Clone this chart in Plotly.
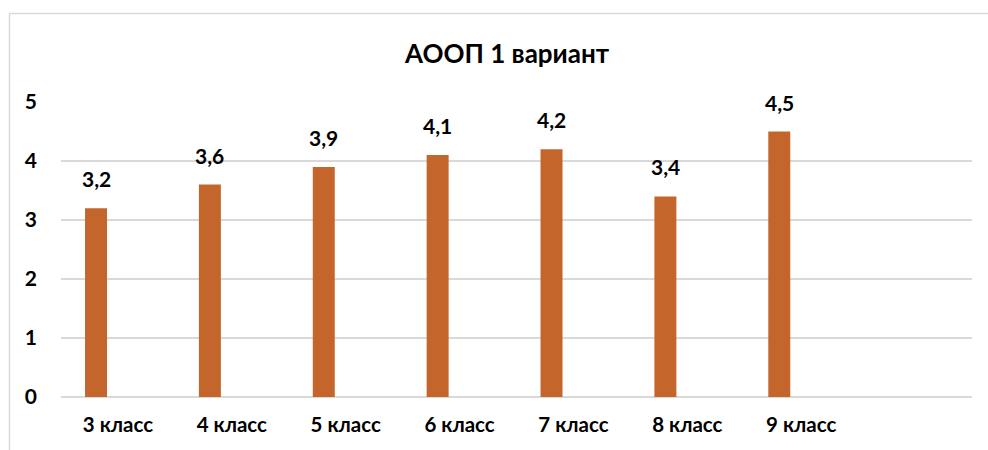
import plotly.graph_objects as go

categories = ["3 класс", "4 класс", "5 класс", "6 класс", "7 класс", "8 класс", "9 класс"]
values = [3.2, 3.6, 3.9, 4.1, 4.2, 3.4, 4.5]
value_labels = ["3,2", "3,6", "3,9", "4,1", "4,2", "3,4", "4,5"]
y_ticks = [0, 1, 2, 3, 4, 5]
title_text = "АООП 1 вариант"

W, H = 988, 450
ML, MR, MT, MB = 61, 16, 102, 53
PW, PH = W - ML - MR, H - MT - MB


def px_x(px):
    return (px - ML) / PW


def px_y(py):
    return (H - MB - py) / PH


BAR_W = 0.193
BAR_OFF = -0.289
bar_center = BAR_OFF + BAR_W / 2
FONT = "Lato"
bar_color = "#C4662B"
grid_color = "#D9D9D9"

xs = list(range(len(categories)))

fig = go.Figure()
fig.add_trace(go.Bar(
    x=xs, y=values, width=BAR_W, offset=BAR_OFF,
    marker=dict(color=bar_color, line=dict(width=0)),
    hoverinfo="skip", showlegend=False,
))

for xi, v, t in zip(xs, values, value_labels):
    fig.add_annotation(
        x=xi + bar_center, y=v, text=t, showarrow=False,
        xref="x", yref="y", yanchor="bottom", yshift=15,
        font=dict(family=FONT, size=21, color="#000000", weight=700),
    )

fig.add_annotation(
    x=px_x(506.5), y=px_y(53), xref="paper", yref="paper",
    text=title_text, showarrow=False, xanchor="center", yanchor="middle",
    font=dict(family=FONT, size=26, color="#000000", weight=700),
)

fig.add_shape(
    type="rect", xref="paper", yref="paper",
    x0=px_x(9.5), x1=px_x(1010), y0=px_y(470), y1=px_y(13.5),
    line=dict(color=grid_color, width=1.5), fillcolor="rgba(0,0,0,0)", layer="above",
)

fig.update_layout(
    width=W, height=H,
    margin=dict(l=ML, r=MR, t=MT, b=MB),
    paper_bgcolor="white", plot_bgcolor="white",
    font=dict(family=FONT, size=20, color="#000000", weight=700),
    xaxis=dict(
        range=[-0.5, 7.5], tickmode="array", tickvals=xs, ticktext=categories,
        showgrid=False, zeroline=False, showline=False, ticks="",
        ticklabelstandoff=13,
        tickfont=dict(family=FONT, size=20.5, color="#000000", weight=700),
        fixedrange=True,
    ),
    yaxis=dict(
        range=[0, 5], tickmode="array", tickvals=y_ticks,
        showgrid=True, gridcolor=grid_color, gridwidth=1.5,
        zeroline=True, zerolinecolor=grid_color, zerolinewidth=1.5,
        showline=False, ticks="", ticklabelstandoff=23,
        tickfont=dict(family=FONT, size=21, color="#000000", weight=700),
        fixedrange=True,
    ),
)

fig.write_html(
    "out.html",
    config={"displayModeBar": False},
    post_script="document.body.style.margin='0';document.body.style.padding='0';",
)
